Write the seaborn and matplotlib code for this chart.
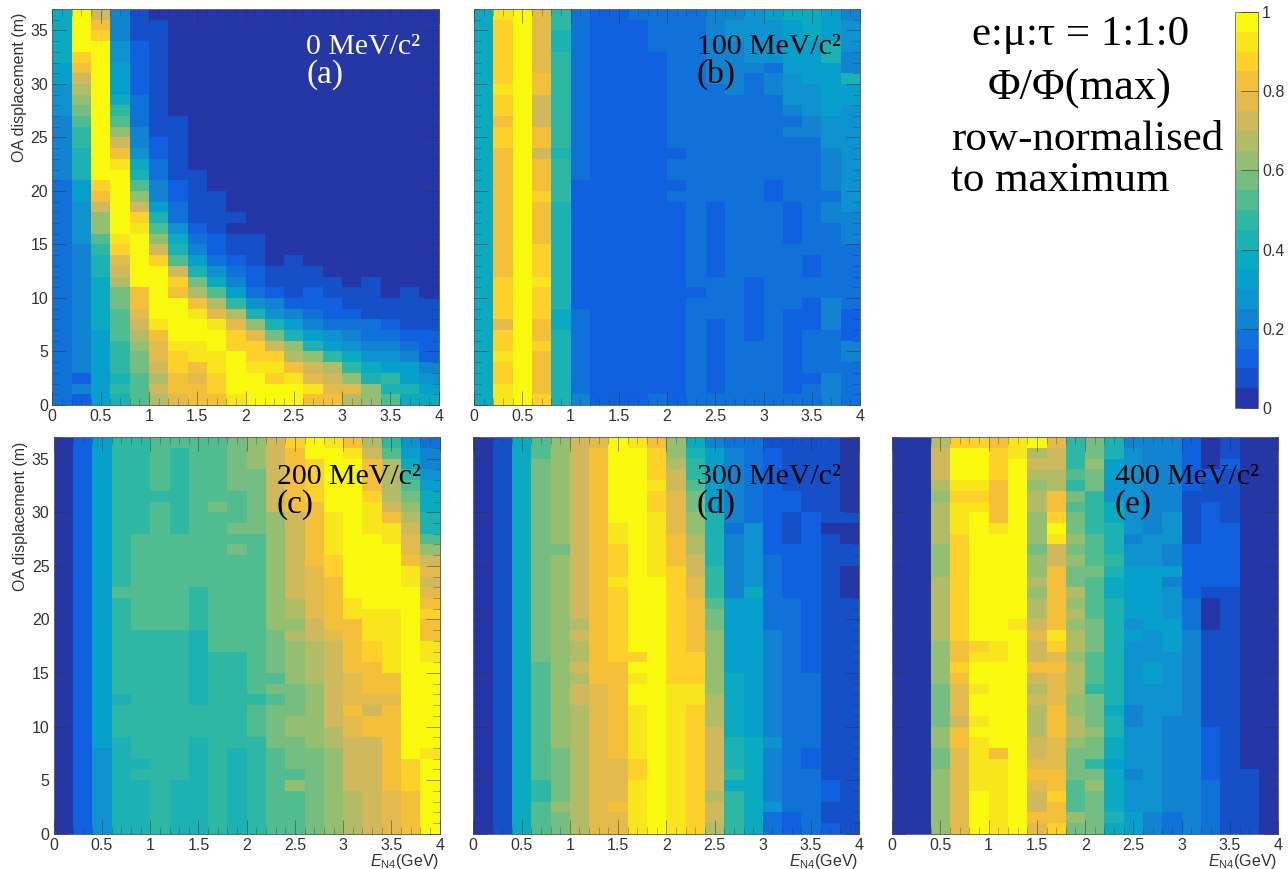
#row-normalised flux maps, one heatmap per mass
import numpy as np
import matplotlib
matplotlib.use("Agg")
import matplotlib.pyplot as plt
from matplotlib.colors import ListedColormap
import seaborn as sns

##DATA##
#each string is one energy column, top row (36-37 m) first, value = colour level 0-19 in base 20
mass_labels = ["0 MeV/c²", "100 MeV/c²", "200 MeV/c²", "300 MeV/c²", "400 MeV/c²"]
panel_labels = ["(a)", "(b)", "(c)", "(d)", "(e)"]
energy_ticks = ["0", "0.5", "1", "1.5", "2", "2.5", "3", "3.5", "4"]
oa_ticks = [0, 5, 10, 15, 20, 25, 30, 35]
bar_ticks = [0, 0.2, 0.4, 0.6, 0.8, 1]
bar_tick_labels = ["0", "0.2", "0.4", "0.6", "0.8", "1"]

bird_levels = ["#2537a6", "#1650c8", "#1060df", "#1071d8", "#1283d1", "#0e93d0", "#07a0cc",
               "#0aaac0", "#1cb1b2", "#2eb8a3", "#52bc91", "#75bd80", "#94be70", "#b2bc66",
               "#cfb95c", "#e2bb4c", "#f4c03a", "#fed12a", "#f9e51c", "#f9f90e"]

mass_0 = [
    "77777 66555 44444 43333 33333 33333 33333 33",
    "jjjjh gedcb a9988 86655 55444 44444 44442 42",
    "eghjj jjjjj jjjjj jhgec ca988 77777 66666 66",
    "44455 66679 acegi jjjjj jihfe dbbaa a9998 98",
    "11122 22233 34457 8aceh ijjjj jggfe dcbba aa",
    "01111 11111 11223 34468 acehj jjjji gffed ed",
    "00000 00000 11111 12233 578ae hgjjj jihhg gf",
    "00000 00000 00000 11111 23468 bdgij jiigf gg",
    "00000 00000 00000 00111 12235 7adfi jjiih hg",
    "00000 00000 00000 00001 01123 469df hhjjj ji",
    "00000 00000 00000 00000 01112 2358c fhhij jj",
    "00000 00000 00000 00000 00001 12458 behih jj",
    "00000 00000 00000 00000 00011 11246 8cdgi jj",
    "00000 00000 00000 00000 00001 12234 68cef ig",
    "00000 00000 00000 00000 00000 11223 569de fg",
    "00000 00000 00000 00000 00000 01123 4579c fd",
    "00000 00000 00000 00000 00000 11113 34578 cc",
    "00000 00000 00000 00000 00000 00112 34569 8a",
    "00000 00000 00000 00000 00000 01111 23466 87",
    "00000 00000 00000 00000 00000 00111 22245 67",
]
mass_100 = [
    "77777 77777 77777 77777 77777 77777 77777 77",
    "ihhhh hhihh ghhgg ggggg ggggg hhhhf hhihh ii",
    "jjjjj jjjjj jjjjj jjjjj jjjjj jjjjj jjjjj jj",
    "fffff fggee eggeg gghgg gghhh ihhhg ghggg gh",
    "99889 99999 99989 99988 88888 88877 88888 88",
    "33333 33333 33333 32222 22222 22233 33333 34",
    "22222 22222 22222 22222 22222 22222 22222 22",
    "22222 22222 22222 22222 22222 22222 22222 22",
    "32222 22222 22222 22222 22222 22222 22222 22",
    "33332 22222 22222 22222 22222 22222 22222 23",
    "33333 33333 33323 32322 22222 22222 22222 22",
    "33333 33333 33333 33333 33333 32333 33333 33",
    "44444 44333 33333 33322 22222 33332 22222 23",
    "45544 44433 33333 33333 33333 33333 33333 33",
    "55555 43333 33333 33333 33333 22222 23333 33",
    "65555 34433 33333 32233 33333 33333 33333 33",
    "76666 65554 34333 33322 22333 33322 22222 23",
    "77766 66555 44333 33333 33322 33222 33332 33",
    "66688 66666 55544 44344 33333 33444 33334 44",
    "45554 48665 55555 55554 44333 33322 24433 33",
]
mass_200 = [
    "00000 00000 00000 00000 00000 00000 00000 00",
    "22222 22222 22222 22222 22222 22222 22222 22",
    "66666 66666 66666 66666 66666 66665 55555 55",
    "99999 99999 9999a 99999 99998 99988 88888 88",
    "99999 9999a aaaaa aaa99 99999 99999 89888 88",
    "aaaaa 9aaaa aaaaa aaa99 99999 99999 99999 99",
    "a9999 9999a aaaaa aaa99 99999 99999 99888 88",
    "aaaaa aaaaa aaaa9 99988 88888 99988 88888 88",
    "aaaaa abaaa aaaaa aaaaa 99999 99999 99999 99",
    "bbbbb aaaba baaaa aaaaa 99999 99998 88888 88",
    "cccbb bbbba aaaaa aaaaa aaaa9 aaa99 99999 99",
    "eeeee eeccc ccccc cccbb bbaba bbbba aaaaa aa",
    "hgggg ggeee eeeee ddcdc cccbb bccbb bacaa aa",
    "jjhhh hgggg ggfff ffeed dddcc ccccb bbbbb bb",
    "ijjjj jjiii ihhgg gggfe eeeee eeddc ccccc cc",
    "gijjj jjjjj jjjjj iiggg ggfff gffee eeedd dd",
    "deggg hiiij jjjjj jiiih hgggf eggee eeeee ee",
    "9addd degii jjjjj jiiii iiggf ggggg gggff ff",
    "5679a bcdef fgiij jjjjj jjjjj jjjjj hhhgg gg",
    "34456 7788a cefef ghggi ijjjj jjjji jjjjj jj",
]
mass_300 = [
    "00000 00000 00000 00000 00000 00000 00000 00",
    "11111 11111 11111 11111 11111 11111 11111 11",
    "77777 77777 77777 77777 77777 77777 77777 77",
    "aabbb bbbbb bbbbb bbbbb baaaa aaaaa aa99a aa",
    "ccccc ccccc bcccc ccccc ccccc ccccb bbbbc bb",
    "eeeee eeeee eeeee eeded dedee ddddd ddddd dd",
    "fgggg ggggg ggggg ggggg gggff fffff fffff ff",
    "jjjjj jjjii hhhih hhhhh hgggg ggggg ffffg ff",
    "ijjjj jjjjj jjjjj jjjjj hjijj iiiii hhiii ii",
    "ghhhi hhiii iiijj jjjjj jjjjj jjjjj jjjjj jj",
    "ccdee ffffg gghhh hhhhh hhhii iiiii iiiii ii",
    "7899a bbccd deeff ggggg hhhii hhhhh hhhhh hh",
    "46666 66888 88999 abbcc ccccd ddeee eeede ed",
    "34444 44434 44444 66666 66777 77788 89799 99",
    "33333 33355 55557 66666 66666 66677 77777 77",
    "12222 22222 23333 33344 44444 44454 44445 33",
    "11111 22111 22222 33333 33333 33333 33333 22",
    "11111 11222 22222 22222 22333 33332 23333 33",
    "11111 11101 11111 11111 11111 11111 11221 12",
    "00000 00100 11000 11111 11111 11111 11111 11",
]
mass_400 = [
    "00000 00000 00000 00000 00000 00000 00000 00",
    "00000 00000 00000 00000 00000 00000 00000 00",
    "deeed cdddd cccdd ddddc cccbb bbccb bcccc cc",
    "hjjji hiiih hhhhh hhhhg ghgff feggf fffff ff",
    "hjjji hijjj jjjjj jjjjh ijjij jijii iiijj jj",
    "ghhhg gggij jjjjj jjjji ijjjj jjjjg iiiii ii",
    "iijjj jjjjj jjjjj jjijj jjjjj jjjjj jjjjj jj",
    "jdedc ddccc bccdc ddefe egede dddee fgfee gf",
    "feedd gghji eeggg gggih fgfff gggff fgghg gh",
    "999a9 babbc bcbbd cdcdd cdddc cddcb bbaaa cb",
    "bbcbb 9999a aabaa aabbb aaa9b bbcbb 9bcbb bb",
    "88665 57788 89877 88888 88888 78877 67777 87",
    "45555 55554 55666 66565 55555 44555 54555 66",
    "44444 44445 55666 66655 56655 55555 55555 44",
    "44444 44555 44645 55666 55555 54444 44444 33",
    "22222 11111 22222 33344 44444 44444 44444 44",
    "00021 12222 22221 00011 11111 11222 22333 33",
    "11211 11122 22221 11111 11111 11111 11111 11",
    "00000 00000 00000 00000 00000 00000 01111 11",
    "00000 00000 00000 00000 00000 00000 00000 00",
]

##STYLE##
sns.set_theme(style="white")
plt.rcParams["font.family"] = ["Liberation Sans", "DejaVu Sans"]
plt.rcParams["mathtext.fontset"] = "custom"
plt.rcParams["mathtext.rm"] = "Liberation Sans"
plt.rcParams["mathtext.it"] = "Liberation Sans:italic"

W, H = 1288, 869
serif = ["Liberation Serif", "DejaVu Serif"]
bird = ListedColormap(bird_levels)

def levels_to_values(columns):
    #level k covers k/20 to (k+1)/20, so take the middle of it
    rows = [[int(c, 20) for c in col.replace(" ", "")] for col in columns]
    return (np.array(rows).T + 0.5) / 20

def pixel_axes(left, top, right, bottom):
    return fig.add_axes([left / W, 1 - bottom / H, (right - left) / W, (bottom - top) / H])

def text_px(x, y, s, **kw):
    fig.text(x / W, 1 - y / H, s, family=serif, va="baseline", **kw)

fig = plt.figure(figsize=(W / 100, H / 100), dpi=100)

panels = [
    (mass_0, (52.3, 9, 438.7, 405), (306, 54), "white"),
    (mass_100, (474, 9, 860, 405), (697, 54), "black"),
    (mass_200, (53.7, 437.3, 439.7, 833.7), (277, 484), "black"),
    (mass_300, (473.3, 437.3, 859.3, 833.7), (697, 484), "black"),
    (mass_400, (892, 437.3, 1278.3, 833.7), (1115, 484), "black"),
]

cax = pixel_axes(1235, 12, 1258, 408)

for i, (columns, box, (tx, ty), colour) in enumerate(panels):
    ax = pixel_axes(*box)
    last = i == len(panels) - 1
    sns.heatmap(levels_to_values(columns), ax=ax, cmap=bird, vmin=0, vmax=1,
                xticklabels=False, yticklabels=False, cbar=last, cbar_ax=cax if last else None)
    #the white style puts ticks under the mesh otherwise
    ax.set_axisbelow(False)

    #heatmap works in cell units, 1 cell = 0.2 GeV across and 1 m down
    ax.set_xticks(np.arange(9) * 2.5)
    ax.set_xticklabels(energy_ticks, rotation=0)
    ax.set_xticks(np.arange(41) * 0.5, minor=True)
    ax.set_yticks([37 - v for v in oa_ticks])
    ax.set_yticks(np.arange(38), minor=True)
    if i in (0, 2):
        ax.set_yticklabels(oa_ticks, rotation=0)
        ax.set_ylabel("OA displacement (m)", fontsize=11.5, color="#333333")
        ax.yaxis.set_label_coords(-0.086, 0.99)
        ax.yaxis.label.set_verticalalignment("center")
        ax.yaxis.label.set_horizontalalignment("right")
    else:
        ax.set_yticklabels([])
    if i >= 2:
        ax.set_xlabel(r"$\mathit{E}_{\mathrm{N4}}$(GeV)", fontsize=11.5, color="#333333", ha="right")
        ax.xaxis.set_label_coords(0.998, -0.045)
    ax.tick_params(which="major", direction="in", length=10, width=0.6, color="#33333399",
                   top=True, bottom=True, left=True, right=True, labelsize=11.5,
                   labelcolor="#333333", pad=3)
    ax.tick_params(which="minor", direction="in", length=5, width=0.5, color="#33333380",
                   top=True, bottom=True, left=True, right=True)
    for side in ax.spines.values():
        side.set_visible(True)
        side.set_linewidth(0.7)
        side.set_color("#666666")

    text_px(tx, ty, mass_labels[i], fontsize=21.5, color=colour)
    text_px(tx, ty + 29, panel_labels[i], fontsize=24, color=colour)

cbar = fig.axes[-1].collections[0].colorbar
cbar.set_ticks(bar_ticks, labels=bar_tick_labels)
cbar.ax.set_axisbelow(False)
cbar.ax.tick_params(which="major", direction="in", length=12, width=0.7, color="#33333399",
                    labelsize=11.5, labelcolor="#333333", pad=3, right=True)
cbar.outline.set_visible(True)
cbar.outline.set_linewidth(0.7)
cbar.outline.set_edgecolor("#777777")

text_px(1081, 45, "e:μ:τ = 1:1:0", fontsize=31, color="black", ha="center")
text_px(1080, 100, "Φ/Φ(max)", fontsize=32, color="black", ha="center")
text_px(951, 150, "row-normalised", fontsize=31, color="black")
text_px(951, 191, "to maximum", fontsize=31, color="black")

fig.savefig("out.png", dpi=100)
